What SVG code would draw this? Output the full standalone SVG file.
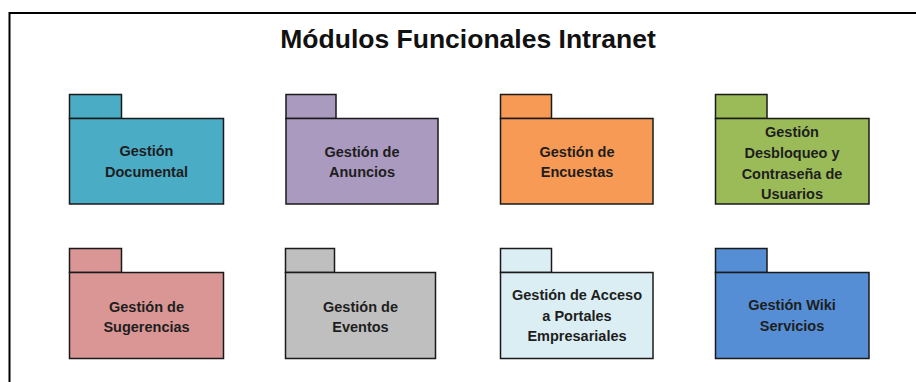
<svg xmlns="http://www.w3.org/2000/svg" width="916" height="382" viewBox="0 0 916 382">
<style>
.pk{stroke:#1a1a1a;stroke-width:1.5}
.t{font-family:"Liberation Sans",Arial,sans-serif;font-weight:bold;font-size:14.5px;fill:#1e1e1e;text-anchor:middle}
.title{font-family:"Liberation Sans",Arial,sans-serif;font-weight:bold;font-size:26.5px;fill:#111;text-anchor:middle}
</style>
<rect width="916" height="382" fill="#fff"/>
<path d="M9.5 382 V13 H916" fill="none" stroke="#000" stroke-width="2"/>
<text class="title" x="468" y="48">Módulos Funcionales Intranet</text>
<g id="connectors"/>
<g id="n1">
<rect class="pk" x="69.5" y="94.5" width="52" height="24" fill="#4BACC6"/>
<rect class="pk" x="69.5" y="118.5" width="154" height="85.5" fill="#4BACC6"/>
<text class="t" x="146.5" y="156">Gestión</text>
<text class="t" x="146.5" y="177">Documental</text>
</g>
<g id="n2">
<rect class="pk" x="286" y="94.5" width="50" height="24" fill="#AB9AC0"/>
<rect class="pk" x="286" y="118.5" width="152" height="85.5" fill="#AB9AC0"/>
<text class="t" x="362" y="156.5">Gestión de</text>
<text class="t" x="362" y="177">Anuncios</text>
</g>
<g id="n3">
<rect class="pk" x="500.5" y="94.5" width="51" height="24" fill="#F79A55"/>
<rect class="pk" x="500.5" y="118.5" width="152.5" height="85.5" fill="#F79A55"/>
<text class="t" x="577" y="156.5">Gestión de</text>
<text class="t" x="577" y="177">Encuestas</text>
</g>
<g id="n4">
<rect class="pk" x="715.5" y="94.5" width="51.5" height="24" fill="#9BBB59"/>
<rect class="pk" x="715.5" y="118.5" width="153.5" height="85.5" fill="#9BBB59"/>
<text class="t" x="792" y="137">Gestión</text>
<text class="t" x="792" y="158">Desbloqueo y</text>
<text class="t" x="792" y="178.5">Contraseña de</text>
<text class="t" x="792" y="199">Usuarios</text>
</g>
<g id="n5">
<rect class="pk" x="69.5" y="248.5" width="52" height="24" fill="#D99694"/>
<rect class="pk" x="69.5" y="272.5" width="154" height="86" fill="#D99694"/>
<text class="t" x="146.5" y="311.5">Gestión de</text>
<text class="t" x="146.5" y="332">Sugerencias</text>
</g>
<g id="n6">
<rect class="pk" x="285.5" y="248.5" width="49" height="24" fill="#BFBFBF"/>
<rect class="pk" x="285.5" y="272.5" width="150" height="86" fill="#BFBFBF"/>
<text class="t" x="360.5" y="311.5">Gestión de</text>
<text class="t" x="360.5" y="332">Eventos</text>
</g>
<g id="n7">
<rect class="pk" x="500.5" y="248.5" width="51" height="24" fill="#DBEEF3"/>
<rect class="pk" x="500.5" y="272.5" width="152.5" height="86" fill="#DBEEF3"/>
<text class="t" x="577" y="300">Gestión de Acceso</text>
<text class="t" x="577" y="320.5">a Portales</text>
<text class="t" x="577" y="341">Empresariales</text>
</g>
<g id="n8">
<rect class="pk" x="715.5" y="248.5" width="51.5" height="24" fill="#558ED5"/>
<rect class="pk" x="715.5" y="272.5" width="153.5" height="86" fill="#558ED5"/>
<text class="t" x="792" y="310">Gestión Wiki</text>
<text class="t" x="792" y="331">Servicios</text>
</g>
</svg>
